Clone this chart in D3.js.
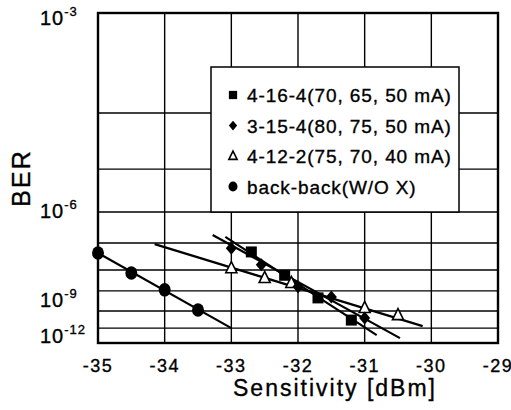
<!DOCTYPE html>
<html>
<head>
<meta charset="utf-8">
<script src="https://cdn.jsdelivr.net/npm/d3@7"></script>
<style>
  body { margin: 0; background: #fff; }
  text { font-family: "Liberation Sans", Arial, sans-serif; fill: #000; stroke: #000; stroke-width: 0.35; }
</style>
</head>
<body>
<div id="chart"></div>
<script>
// x axis: sensitivity in dBm
var xTicks = [-35, -34, -33, -32, -31, -30, -29];
// y axis: log10(BER) decades, and where each decade sits (fraction of plot height)
var berDecades = [-3, -4, -5, -6, -7, -8, -9, -10, -11, -12];
var berDecadePos = [0, 0.303, 0.473, 0.603, 0.697, 0.779, 0.842, 0.903, 0.955, 1];
var berLabels = [-3, -6, -9, -12];

var seriesNames = ["4-16-4(70, 65, 50 mA)", "3-15-4(80, 75, 50 mA)", "4-12-2(75, 70, 40 mA)", "back-back(W/O X)"];
var seriesShapes = ["square", "diamond", "triangle", "circle"];

// measured points (x in dBm, y = log10 BER)
var sqX = [-32.7, -32.2, -31.7, -31.2];
var sqY = [-7.33, -8.25, -9.35, -10.53];
var diX = [-33, -32.55, -32, -31.5, -31.0];
var diY = [-7.19, -7.8, -8.8, -9.3, -10.41];
var trX = [-33, -32.5, -32.1, -31, -30.5];
var trY = [-7.93, -8.38, -8.62, -9.85, -10.24];
var bbX = [-35, -34.5, -34, -33.5];
var bbY = [-7.37, -8.14, -8.95, -9.95];

// fitted lines (start / end)
var sqFitX = [-33.09, -30.82], sqFitY = [-6.8, -11.47];
var diFitX = [-33.28, -30.47], diFitY = [-6.74, -11.67];
var trFitX = [-34.15, -30.13], trFitY = [-7.04, -10.88];
var bbFitX = [-35, -33], bbFitY = [-7.37, -11.0];

window.onload = function(){
    var W = 511, H = 410;
    var margin = {top: 13, right: 13, bottom: 67, left: 98},
        width = W - margin.left - margin.right,
        height = H - margin.top - margin.bottom;

    var svg = d3.select("#chart").append("svg")
        .attr("width", W).attr("height", H);
    var g = svg.append("g")
        .attr("transform", "translate(" + margin.left + "," + margin.top + ")");

    var x = d3.scaleLinear().domain([-35, -29]).range([0, width]);
    var y = d3.scaleLinear()
        .domain(berDecades)
        .range(berDecadePos.map(function(f){ return f * height; }));

    // grid
    g.selectAll("line.vgrid").data(xTicks).enter().append("line")
        .attr("x1", function(d){ return x(d); }).attr("x2", function(d){ return x(d); })
        .attr("y1", 0).attr("y2", height)
        .attr("stroke", "#000").attr("stroke-width", 1.4);
    g.selectAll("line.hgrid").data(berDecades).enter().append("line")
        .attr("x1", 0).attr("x2", width)
        .attr("y1", function(d){ return y(d); }).attr("y2", function(d){ return y(d); })
        .attr("stroke", "#000").attr("stroke-width", 1.4);

    // x tick labels
    g.selectAll("text.xt").data(xTicks).enter().append("text")
        .attr("x", function(d){ return x(d); })
        .attr("y", height + 29)
        .attr("text-anchor", "middle")
        .attr("font-size", 18).attr("letter-spacing", 1.5)
        .text(function(d){ return d; });

    // y tick labels 10^n
    var nudge = {"-3": 12, "-6": 6, "-9": 16, "-12": 0};
    berLabels.forEach(function(d){
        var t = svg.append("text")
            .attr("x", 40).attr("y", margin.top + y(d) + nudge[d])
            .attr("font-size", 20).attr("letter-spacing", 1);
        t.append("tspan").text("10");
        t.append("tspan").attr("dy", -9).attr("font-size", 13).text(d);
    });

    // axis titles
    svg.append("text")
        .attr("x", 335).attr("y", 396)
        .attr("text-anchor", "middle")
        .attr("font-size", 23).attr("letter-spacing", 2)
        .text("Sensitivity [dBm]");
    svg.append("text")
        .attr("transform", "translate(30,178) rotate(-90)")
        .attr("text-anchor", "middle")
        .attr("font-size", 25).attr("letter-spacing", 2)
        .text("BER");

    // legend
    var lg = svg.append("g");
    lg.append("rect").attr("x", 211).attr("y", 67).attr("width", 248).attr("height", 145)
        .attr("fill", "#fff").attr("stroke", "#000").attr("stroke-width", 1.5);
    seriesNames.forEach(function(name, i){
        var cy = 95 + i * 30.5;
        drawMarker(lg, seriesShapes[i], 233, cy, 0.75);
        lg.append("text").attr("x", 247).attr("y", cy + 7)
            .attr("font-size", 19).attr("letter-spacing", 0.9)
            .text(name);
    });

    // fitted lines
    var fits = [[bbFitX, bbFitY], [trFitX, trFitY], [diFitX, diFitY], [sqFitX, sqFitY]];
    var line = d3.line().x(function(d){ return x(d[0]); }).y(function(d){ return y(d[1]); });
    fits.forEach(function(f){
        g.append("path").datum(d3.zip(f[0], f[1]))
            .attr("d", line).attr("fill", "none")
            .attr("stroke", "#000").attr("stroke-width", 2.2);
    });

    // points
    var sets = [[trX, trY, "triangle"], [bbX, bbY, "circle"], [diX, diY, "diamond"], [sqX, sqY, "square"]];
    sets.forEach(function(s){
        d3.zip(s[0], s[1]).forEach(function(p){
            drawMarker(g, s[2], x(p[0]), y(p[1]), 1);
        });
    });

    // frame
    g.append("rect").attr("x", 0).attr("y", 0).attr("width", width).attr("height", height)
        .attr("fill", "none").attr("stroke", "#000").attr("stroke-width", 2.4);
};

function drawMarker(parent, shape, cx, cy, k){
    if (shape == "square") {
        var s = 11 * k;
        parent.append("rect").attr("x", cx - s/2).attr("y", cy - s/2)
            .attr("width", s).attr("height", s).attr("fill", "#000");
    } else if (shape == "diamond") {
        var r = 6.5 * k;
        parent.append("path")
            .attr("d", "M" + cx + "," + (cy - r) + "L" + (cx + r*0.85) + "," + cy + "L" + cx + "," + (cy + r) + "L" + (cx - r*0.85) + "," + cy + "Z")
            .attr("fill", "#000");
    } else if (shape == "triangle") {
        var t = 6.5 * k;
        parent.append("path")
            .attr("d", "M" + cx + "," + (cy - t) + "L" + (cx + t*0.85) + "," + (cy + t*0.7) + "L" + (cx - t*0.85) + "," + (cy + t*0.7) + "Z")
            .attr("fill", "#fff").attr("stroke", "#000").attr("stroke-width", 1.6);
    } else {
        parent.append("ellipse").attr("cx", cx).attr("cy", cy)
            .attr("rx", 6 * k).attr("ry", 6.8 * k).attr("fill", "#000");
    }
}
</script>
</body>
</html>
